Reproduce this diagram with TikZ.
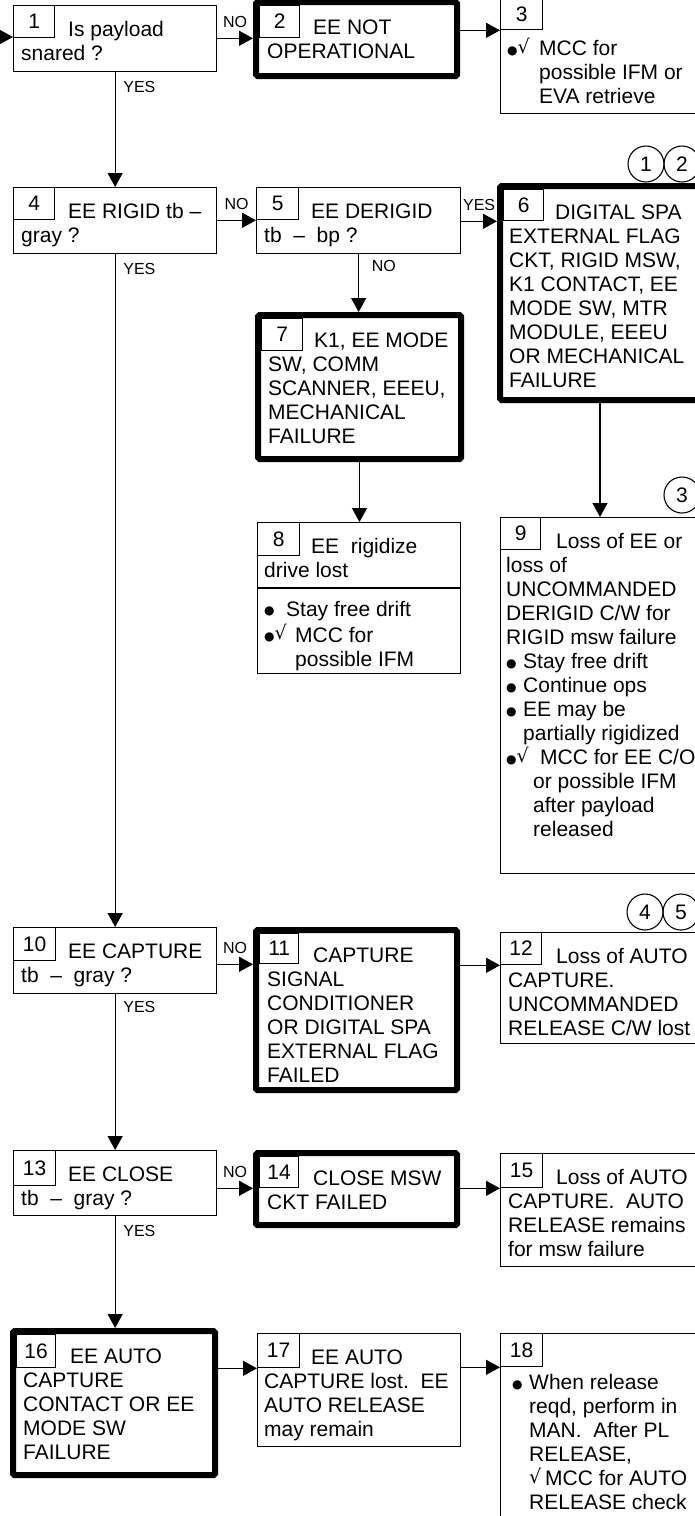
\documentclass[tikz,border=0pt]{standalone}
\usepackage{fontspec}
\setmainfont{Liberation Sans}
\newfontfamily\dejavu{DejaVu Sans}
\usetikzlibrary{arrows.meta}
\newcommand\fs{\fontsize{21}{24}\selectfont}
\newcommand\lblfont{\fontsize{16}{18}\selectfont}
\newcommand\chk{\raisebox{2.5pt}{\fontsize{19}{19}\selectfont\dejavu √}}
\newcommand\bul{\raisebox{1.5pt}{\fontsize{12}{12}\selectfont\dejavu ●}}
\tikzset{
  box/.style={draw, line width=1.3pt, inner sep=0pt, outer sep=0.65pt},
  thickbox/.style={draw, line width=6pt, inner sep=0pt, outer sep=3pt, rounded corners=1.5pt},
  numbox/.style={draw, line width=1.3pt, inner sep=0pt, outer sep=0.65pt, anchor=north west, font=\fs},
  txt/.style={inner sep=0pt, anchor=north west, align=left, font=\fs},
  lbl/.style={inner sep=0pt, font=\lblfont},
  arr/.style={line width=1.3pt, -{Triangle[length=14pt,width=15pt]}},
  circ/.style={draw, circle, line width=1.1pt, minimum size=36pt, inner sep=0pt, font=\fs}
}
\begin{document}
\begin{tikzpicture}[x=1pt,y=-1pt]
\useasboundingbox (0,0) rectangle (695,1516);
\clip (0,0) rectangle (695,1516);
\fill[white] (0,0) rectangle (695,1516);

% ---- row 1
\node[box, minimum width=203pt, minimum height=66pt, anchor=north west] (b1) at (13,5) {};
\node[numbox, minimum width=41pt, minimum height=32pt] (n1) at (13,5) {1};
\node[txt] (t1) at (21,19.7) {\strut\hspace*{47pt}Is payload\\snared ?};

\node[thickbox, minimum width=201pt, minimum height=74pt, anchor=north west] (b2) at (253,-1) {};
\node[numbox, minimum width=40pt, minimum height=32pt] (n2) at (259,5) {2};
\node[txt] (t2) at (267,17.7) {\strut\hspace*{46pt}EE NOT\\OPERATIONAL};

\node[box, minimum width=200pt, minimum height=115pt, anchor=north west] (b3) at (500,-2) {};
\node[numbox, minimum width=42pt, minimum height=31pt] (n3) at (500,-2) {3};
\node[txt] (t3) at (507,37.7) {\strut\makebox[32pt][l]{\bul\chk}MCC for\\\hspace*{32pt}possible IFM or\\\hspace*{32pt}EVA retrieve};

% ---- row 2
\node[box, minimum width=203pt, minimum height=66pt, anchor=north west] (b4) at (13,187) {};
\node[numbox, minimum width=41pt, minimum height=32pt] (n4) at (13,187) {4};
\node[txt] (t4) at (21,201.7) {\strut\hspace*{47pt}EE RIGID tb –\\gray ?};

\node[box, minimum width=204pt, minimum height=66pt, anchor=north west] (b5) at (256,187) {};
\node[numbox, minimum width=42pt, minimum height=32pt] (n5) at (256,187) {5};
\node[txt] (t5) at (264,201.7) {\strut\hspace*{47pt}EE DERIGID\\tb\ \ –\ \ bp ?};

\node[thickbox, minimum width=200pt, minimum height=214pt, anchor=north west] (b6) at (497,183) {};
\node[numbox, minimum width=40pt, minimum height=31pt] (n6) at (503,189) {6};
\node[txt] (t6) at (509,202.7) {\strut\hspace*{46pt}DIGITAL SPA\\EXTERNAL FLAG\\CKT, RIGID MSW,\\K1 CONTACT, EE\\MODE SW, MTR\\MODULE, EEEU\\OR MECHANICAL\\FAILURE};
\node[circ] (c1) at (646,164) {1};
\node[circ] (c2) at (682,164) {2};

\node[thickbox, minimum width=203pt, minimum height=144pt, anchor=north west] (b7) at (255,312) {};
\node[numbox, minimum width=41pt, minimum height=32pt] (n7) at (261,318) {7};
\node[txt] (t7) at (268,330.7) {\strut\hspace*{46pt}K1, EE MODE\\SW, COMM\\SCANNER, EEEU,\\MECHANICAL\\FAILURE};

\node[box, minimum width=203pt, minimum height=151pt, anchor=north west] (b8) at (257,522) {};
\node[numbox, minimum width=42pt, minimum height=33pt] (n8) at (257,522) {8};
\node[txt] (t8) at (264,536.7) {\strut\hspace*{47pt}EE\ \ rigidize\\drive lost};
\draw[line width=1.3pt] (257,588) -- (460,588);
\node[txt] (t8b) at (264,599) {\strut\makebox[22pt][l]{\bul}Stay free drift\\\makebox[31pt][l]{\bul\chk}MCC for\\\hspace*{31pt}possible IFM};

\node[box, minimum width=200pt, minimum height=356pt, anchor=north west] (b9) at (500,517) {};
\node[numbox, minimum width=40pt, minimum height=32pt] (n9) at (500,517) {9};
\node[txt] (t9) at (506,531.7) {\strut\hspace*{50pt}Loss of EE or\\loss of\\UNCOMMANDED\\DERIGID C/W for\\RIGID msw failure\\
\makebox[17pt][l]{\bul}Stay free drift\\\makebox[17pt][l]{\bul}Continue ops\\\makebox[17pt][l]{\bul}EE may be\\\hspace*{17pt}partially rigidized\\
\makebox[34pt][l]{\bul\chk}MCC for EE C/O\\\hspace*{27pt}or possible IFM\\\hspace*{27pt}after payload\\\hspace*{27pt}released};
\node[circ] (c3) at (682,495) {3};

% ---- row 3
\node[box, minimum width=203pt, minimum height=66pt, anchor=north west] (b10) at (13,927) {};
\node[numbox, minimum width=42pt, minimum height=33pt] (n10) at (13,927) {10};
\node[txt] (t10) at (21,941.7) {\strut\hspace*{47pt}EE CAPTURE\\tb\ \ –\ \ gray ?};

\node[thickbox, minimum width=201pt, minimum height=160pt, anchor=north west] (b11) at (253,927) {};
\node[numbox, minimum width=39pt, minimum height=30pt] (n11) at (259,933) {11};
\node[txt] (t11) at (267,945.7) {\strut\hspace*{46pt}CAPTURE\\SIGNAL\\CONDITIONER\\OR DIGITAL SPA\\EXTERNAL FLAG\\FAILED};

\node[box, minimum width=200pt, minimum height=111pt, anchor=north west] (b12) at (500,932) {};
\node[numbox, minimum width=41pt, minimum height=32pt] (n12) at (500,932) {12};
\node[txt] (t12) at (508,946.7) {\strut\hspace*{48pt}Loss of AUTO\\CAPTURE.\\UNCOMMANDED\\RELEASE C/W lost};
\node[circ] (c4) at (645,912) {4};
\node[circ] (c5) at (681,912) {5};

% ---- row 4
\node[box, minimum width=203pt, minimum height=65pt, anchor=north west] (b13) at (13,1150) {};
\node[numbox, minimum width=42pt, minimum height=35pt] (n13) at (13,1150) {13};
\node[txt] (t13) at (21,1164.7) {\strut\hspace*{47pt}EE CLOSE\\tb\ \ –\ \ gray ?};

\node[thickbox, minimum width=201pt, minimum height=72pt, anchor=north west] (b14) at (253,1150) {};
\node[numbox, minimum width=39pt, minimum height=31pt] (n14) at (259,1156) {14};
\node[txt] (t14) at (267,1168.7) {\strut\hspace*{46pt}CLOSE MSW\\CKT FAILED};

\node[box, minimum width=200pt, minimum height=113pt, anchor=north west] (b15) at (500,1153) {};
\node[numbox, minimum width=42pt, minimum height=34pt] (n15) at (500,1153) {15};
\node[txt] (t15) at (508,1167.7) {\strut\hspace*{48pt}Loss of AUTO\\CAPTURE.\ \ AUTO\\RELEASE remains\\for msw failure};

% ---- row 5
\node[thickbox, minimum width=202pt, minimum height=144pt, anchor=north west] (b16) at (10,1328) {};
\node[numbox, minimum width=39pt, minimum height=33pt] (n16) at (16,1334) {16};
\node[txt] (t16) at (23,1346.7) {\strut\hspace*{47pt}EE AUTO\\CAPTURE\\CONTACT OR EE\\MODE SW\\FAILURE};

\node[box, minimum width=203pt, minimum height=113pt, anchor=north west] (b17) at (257,1333) {};
\node[numbox, minimum width=42pt, minimum height=34pt] (n17) at (257,1333) {17};
\node[txt] (t17) at (264,1347.7) {\strut\hspace*{47pt}EE AUTO\\CAPTURE lost.\ \ EE\\AUTO RELEASE\\may remain};

\node[box, minimum width=200pt, minimum height=200pt, anchor=north west] (b18) at (500,1333) {};
\node[numbox, minimum width=42pt, minimum height=33pt] (n18) at (500,1333) {18};
\node[txt] (t18) at (512,1372.7) {\strut\makebox[17pt][l]{\bul}When release\\\hspace*{17pt}reqd, perform in\\\hspace*{17pt}MAN.\ \ After PL\\\hspace*{17pt}RELEASE,\\\hspace*{17pt}\makebox[16pt][l]{\chk}MCC for AUTO\\\hspace*{17pt}RELEASE check};

% ---- connectors
\coordinate (in) at (-2,37);
\draw[arr] (in) -- (in -| b1.west);
\draw[arr] (b1.east |- n2.south) -- node[lbl, above=10pt] (l1) {NO} (b2.west |- n2.south);
\draw[arr] (b2.east |- n3.south) -- (b3.west |- n3.south);
\draw[arr] (b1.south) -- (b1.south |- b4.north);
\node[lbl, anchor=west] (y1) at ([shift={(8,15)}]b1.south) {YES};

\draw[arr] (b4.east |- n5.south) -- node[lbl, above=10pt] (l4) {NO} (b5.west |- n5.south);
\draw[arr] (b5.east |- n6.south) -- node[lbl, above=10pt] (l5) {YES} (b6.west |- n6.south);
\draw[arr] (b5.south) -- (b5.south |- b7.north);
\node[lbl, anchor=west] (l5b) at ([shift={(13,12)}]b5.south) {NO};
\draw[arr] (b7.south) -- (b7.south |- b8.north);
\draw[arr] (b6.south) -- (b6.south |- b9.north);
\draw[arr] (b4.south) -- (b4.south |- b10.north);
\node[lbl, anchor=west] (y4) at ([shift={(8,15)}]b4.south) {YES};

\draw[arr] (b10.east |- n11.south) -- node[lbl, above=10pt] (l10) {NO} (b11.west |- n11.south);
\draw[arr] (b11.east |- n12.south) -- (b12.west |- n12.south);
\draw[arr] (b10.south) -- (b10.south |- b13.north);
\node[lbl, anchor=west] (y10) at ([shift={(8,13)}]b10.south) {YES};

\draw[arr] (b13.east |- n14.south) -- node[lbl, above=10pt] (l13) {NO} (b14.west |- n14.south);
\draw[arr] (b14.east |- n15.south) -- (b15.west |- n15.south);
\draw[arr] (b13.south) -- (b13.south |- b16.north);
\node[lbl, anchor=west] (y13) at ([shift={(8,15)}]b13.south) {YES};

\draw[arr] (b16.east |- n17.south) -- (b17.west |- n17.south);
\draw[arr] (b17.east |- n18.south) -- (b18.west |- n18.south);
\end{tikzpicture}
\end{document}
